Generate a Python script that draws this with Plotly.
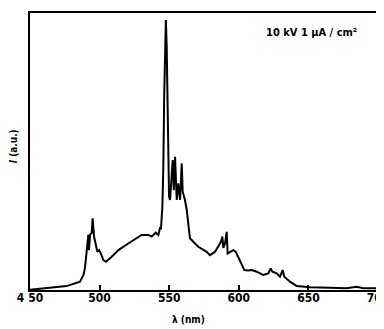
import plotly.graph_objects as go

wavelength = [450, 452.4, 476.3, 485.9, 487.1, 488.5, 489.5, 490.7, 491.4, 491.9, 492.4, 493.1, 494.3, 495.0, 496.0,
              497.2, 498.4, 499.6, 500.8, 502.7, 504.6, 508.7, 513.5, 520.6, 530.2, 535.0, 537.4, 540.3,
              542.2, 543.4, 544.1, 545.1, 545.8, 546.4, 547.0, 547.6, 548.2, 548.8, 549.4, 549.9, 550.6,
              551.5, 552.5, 553.3, 554.2, 555.4, 556.5, 557.8, 559.0, 559.7, 561.3, 562.6, 563.7, 564.9,
              567.3, 570.9, 576.9, 579.3, 582.9, 585.3, 587.2, 588.2, 588.9, 590.1, 591.3, 592.0, 593.7,
              596.1, 597.8, 599.6, 601.6, 604.0, 606.8, 609.3, 612.9, 617.6, 621.2, 622.9, 624.1, 627.2,
              629.6, 631.5, 632.7, 636.8, 641.6, 651.1, 665.5, 677.5, 684.7, 689.4, 699.0, 700]
intensity = [0.1, 0.2, 1.4, 3.0, 4.0, 5.5, 8.0, 15.0, 19.3, 19.9, 14.4, 19.9, 20.6, 25.9, 19.3,
             16.9, 13.8, 14.4, 13.3, 10.8, 10.2, 12.0, 14.4, 16.8, 19.9, 19.9, 19.3, 20.7,
             19.9, 22.4, 22.3, 30.0, 45.0, 70.0, 88.0, 97.5, 88.0, 70.0, 54.0, 33.7, 32.5,
             40.0, 46.9, 36.0, 48.1, 32.5, 38.5, 32.5, 45.7, 35.5, 32.5, 28.9, 22.9, 18.7,
             17.4, 15.6, 13.8, 12.6, 13.8, 15.6, 17.4, 19.3, 15.2, 16.8, 21.0, 13.2, 13.8,
             14.4, 13.8, 12.0, 9.6, 7.2, 7.0, 7.2, 6.6, 5.4, 6.0, 7.8, 6.6, 6.0,
             4.8, 7.2, 4.8, 3.0, 1.4, 1.0, 0.8, 0.6, 1.2, 0.6, 0.6, 0.6]

tick_vals = [450, 500, 550, 600, 650, 700]
tick_text = ["4 50", "500", "550", "600", "650", "700"]

FONT = "DejaVu Sans Condensed, DejaVu Sans, Liberation Sans, sans-serif"

fig = go.Figure()
fig.add_trace(go.Scatter(x=wavelength, y=intensity, mode="lines",
                         line=dict(color="black", width=2), showlegend=False))

# page body has an 8px margin, so the figure is shrunk and shifted accordingly
fig.update_layout(
    width=376, height=321,
    margin=dict(l=22, r=6, t=5, b=39),
    paper_bgcolor="white", plot_bgcolor="white",
    font=dict(family=FONT, color="black"),
    xaxis=dict(range=[450, 700], tickvals=tick_vals, ticktext=tick_text,
               ticks="inside", ticklen=5, tickwidth=1.5, tickcolor="black",
               ticklabeloverflow="allow", automargin=False, ticklabelstandoff=-4,
               showline=True, linecolor="black", linewidth=1.5, mirror=True,
               showgrid=False, zeroline=False,
               tickfont=dict(size=12, weight="bold", family=FONT)),
    yaxis=dict(range=[0, 100], showticklabels=False, ticks="", automargin=False,
               showline=True, linecolor="black", linewidth=1.5, mirror=True,
               showgrid=False, zeroline=False),
    annotations=[
        dict(text="10 kV 1 μA / cm²", x=0.945, y=0.93, xref="paper", yref="paper",
             xanchor="right", yanchor="middle", showarrow=False,
             font=dict(size=11, weight="bold", family=FONT)),
        dict(text="<i>I</i> (a.u.)", x=-0.045, y=0.52, xref="paper", yref="paper",
             textangle=-90, xanchor="center", yanchor="middle", showarrow=False,
             font=dict(size=10, weight="bold", family=FONT)),
        dict(text="λ (nm)", x=0.455, y=-0.135, xref="paper", yref="paper",
             xanchor="center", yanchor="bottom", showarrow=False,
             font=dict(size=10, weight="bold", family=FONT)),
    ],
)

fig.write_html("out.html")
